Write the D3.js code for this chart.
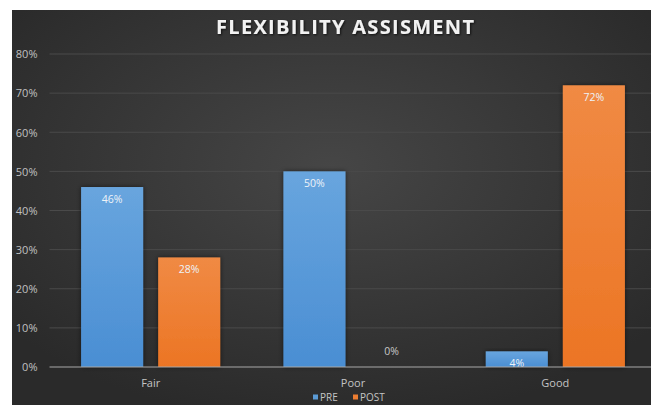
<!DOCTYPE html>
<html>
<head>
<meta charset="utf-8">
<script src="https://cdn.jsdelivr.net/npm/d3@7"></script>
<style>
  html, body { margin: 0; padding: 0; background: #ffffff; }
  svg { display: block; }
</style>
</head>
<body>
<svg id="chart" width="651" height="405"></svg>
<script>
// Flexibility assessment: share of participants per rating, before and after
const categories = ["Fair", "Poor", "Good"];
const seriesNames = ["PRE", "POST"];
const preValues = [0.46, 0.50, 0.04];
const postValues = [0.28, 0.00, 0.72];
const yTicks = [0, 0.1, 0.2, 0.3, 0.4, 0.5, 0.6, 0.7, 0.8];

const W = 651, H = 405;
const svg = d3.select("#chart");
const defs = svg.append("defs");

// dark radial background
const bg = defs.append("radialGradient").attr("id", "bg")
  .attr("cx", "50%").attr("cy", "40%").attr("r", "65%");
bg.append("stop").attr("offset", "0%").attr("stop-color", "#464646");
bg.append("stop").attr("offset", "100%").attr("stop-color", "#2a2a2a");

const blue = defs.append("linearGradient").attr("id", "gBlue")
  .attr("x1", 0).attr("y1", 0).attr("x2", 0).attr("y2", 1);
blue.append("stop").attr("offset", "0%").attr("stop-color", "#68a5de");
blue.append("stop").attr("offset", "100%").attr("stop-color", "#4a8ed3");

const orange = defs.append("linearGradient").attr("id", "gOrange")
  .attr("x1", 0).attr("y1", 0).attr("x2", 0).attr("y2", 1);
orange.append("stop").attr("offset", "0%").attr("stop-color", "#f08a44");
orange.append("stop").attr("offset", "100%").attr("stop-color", "#ec7524");

const shadow = defs.append("filter").attr("id", "barShadow")
  .attr("x", "-20%").attr("y", "-20%").attr("width", "140%").attr("height", "140%");
shadow.append("feDropShadow").attr("dx", 0).attr("dy", 0).attr("stdDeviation", 2.5)
  .attr("flood-color", "#000").attr("flood-opacity", 0.55);

const tshadow = defs.append("filter").attr("id", "titleShadow");
tshadow.append("feDropShadow").attr("dx", 1).attr("dy", 1).attr("stdDeviation", 1)
  .attr("flood-color", "#000").attr("flood-opacity", 0.7);

svg.append("rect").attr("x", 12).attr("y", 10).attr("width", W - 12).attr("height", H - 10)
  .attr("fill", "url(#bg)");

const plot = { left: 49.5, right: 656.5, top: 54, bottom: 367 };

const x0 = d3.scaleBand().domain(categories).range([plot.left, plot.right]).paddingInner(0).paddingOuter(0);
const x1 = d3.scaleBand().domain(seriesNames).range([0, x0.bandwidth()]).paddingInner(0.195).paddingOuter(0.41);
const y = d3.scaleLinear().domain([0, 0.8]).range([plot.bottom, plot.top]);

// gridlines
svg.append("g")
  .selectAll("line").data(yTicks.filter(d => d > 0)).join("line")
  .attr("x1", plot.left).attr("x2", W)
  .attr("y1", d => y(d)).attr("y2", d => y(d))
  .attr("stroke", "#4a4a4a").attr("stroke-width", 1);

// y axis labels
const yAxis = d3.axisLeft(y).tickValues(yTicks).tickFormat(d3.format(".0%")).tickSize(0).tickPadding(0);
const gy = svg.append("g").attr("transform", `translate(${plot.left - 12},0)`).call(yAxis);
gy.select(".domain").remove();
gy.selectAll("text").attr("fill", "#c0c0c0").attr("font-family", "Open Sans, sans-serif")
  .attr("font-size", 11).attr("text-anchor", "end").attr("dy", "0.35em");

// bars
const colors = { PRE: "url(#gBlue)", POST: "url(#gOrange)" };
const rows = categories.map((c, i) => ({ cat: c, PRE: preValues[i], POST: postValues[i] }));

const groups = svg.append("g").selectAll("g").data(rows).join("g")
  .attr("transform", d => `translate(${x0(d.cat)},0)`);

groups.selectAll("rect").data(d => seriesNames.map(s => ({ s, v: d[s] })).filter(e => e.v > 0)).join("rect")
  .attr("x", d => x1(d.s)).attr("width", x1.bandwidth())
  .attr("y", d => y(d.v)).attr("height", d => y(0) - y(d.v))
  .attr("fill", d => colors[d.s]).attr("filter", "url(#barShadow)");

groups.selectAll("text").data(d => seriesNames.map(s => ({ s, v: d[s] }))).join("text")
  .attr("x", d => x1(d.s) + x1.bandwidth() / 2)
  .attr("y", d => d.v > 0 ? y(d.v) + 16 : y(0) - 12)
  .attr("text-anchor", "middle")
  .attr("font-family", "Open Sans, sans-serif").attr("font-size", 10.5)
  .attr("fill", d => d.v > 0 ? "#eef3f8" : "#c8c8c8")
  .text(d => d3.format(".0%")(d.v));

// baseline
svg.append("line").attr("x1", plot.left).attr("x2", W)
  .attr("y1", y(0)).attr("y2", y(0)).attr("stroke", "#a8a8a8").attr("stroke-width", 1.2);

// category axis
const xAxis = d3.axisBottom(x0).tickSize(0).tickPadding(0);
const gx = svg.append("g").attr("transform", `translate(0,${plot.bottom + 16})`).call(xAxis);
gx.select(".domain").remove();
gx.selectAll("text").attr("fill", "#c4c4c4").attr("font-family", "Open Sans, sans-serif")
  .attr("font-size", 11).attr("dy", "0.35em");

// title
svg.append("text").attr("x", 345).attr("y", 34).attr("text-anchor", "middle")
  .attr("font-family", "Open Sans, sans-serif").attr("font-weight", "bold").attr("font-size", 20)
  .attr("fill", "#f2f2f2").attr("filter", "url(#titleShadow)")
  .attr("textLength", 258).attr("lengthAdjust", "spacing")
  .text("FLEXIBILITY ASSISMENT");

// legend
const legend = svg.append("g").attr("transform", "translate(313,397)");
const legendItems = [{ s: "PRE", x: 0, c: "#5b9bd5" }, { s: "POST", x: 40, c: "#ed7d31" }];
const li = legend.selectAll("g").data(legendItems).join("g").attr("transform", d => `translate(${d.x},0)`);
li.append("rect").attr("x", 0).attr("y", -2.5).attr("width", 5).attr("height", 5).attr("fill", d => d.c);
li.append("text").attr("x", 7).attr("y", 0).attr("dy", "0.35em")
  .attr("font-family", "Open Sans, sans-serif").attr("font-size", 10).attr("fill", "#c4c4c4")
  .text(d => d.s);
</script>
</body>
</html>
